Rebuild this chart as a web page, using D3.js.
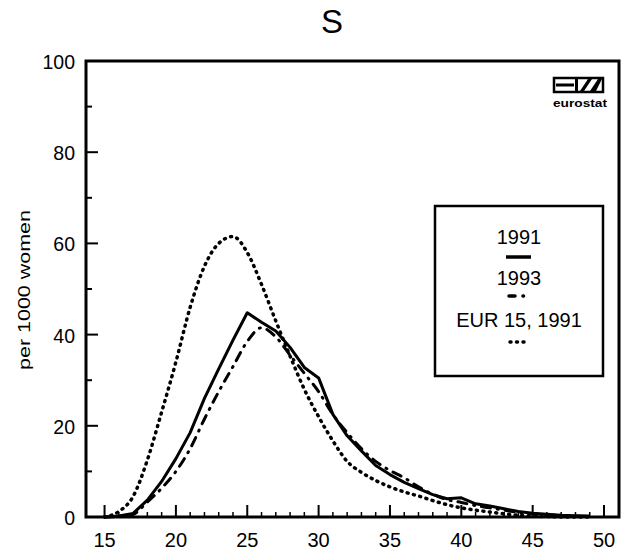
<!DOCTYPE html>
<html><head><meta charset="utf-8">
<script src="https://cdn.jsdelivr.net/npm/d3@7"></script>
<style>body{margin:0;background:#fff}svg{display:block}text{font-family:"Liberation Sans",Arial,sans-serif;fill:#000}</style>
</head><body><svg id="c" width="635" height="556"></svg>
<script>
const ages = d3.range(15, 50);
const s1991 = [0,0.2,0.8,3.7,7.8,12.8,18.5,26,32.5,38.8,44.8,42.7,40.8,37.2,32.8,30.5,22.5,17.8,14.5,11.3,9.3,7.6,6.2,4.9,4.0,4.2,2.9,2.4,1.8,1.2,0.8,0.6,0.4,0.3,0.2];
const s1993 = [0,0.1,0.6,3.3,6.3,10,15,21.5,27.5,33,38.5,41.5,39.5,35.5,31.5,27.5,22.5,18.5,15,12.2,10.2,8.6,6.6,5.0,3.8,3.2,2.5,2.0,1.5,1.0,0.7,0.5,0.3,0.2,0.1];
const eur15 = [0,1.2,4.5,12.5,23,34,46,55,60,61.5,58,51,43,35.3,28,22,16.7,12.2,9.8,8.0,6.6,5.5,4.6,3.6,2.7,2.0,1.5,1.1,0.7,0.4,0.2,0.1,0,0,0];
const xTicks = [15,20,25,30,35,40,45,50];
const yTicks = [0,20,40,60,80,100];
const legendLabels = ["1991","1993","EUR 15, 1991"];
const title = "S";
const yLabel = "per 1000 women";

const svg = d3.select("#c");
const L=86,R=619,T=61,B=517;
const x = d3.scaleLinear().domain([13.7,51.05]).range([L,R]);
const y = d3.scaleLinear().domain([0,100]).range([B,T]);

const g = svg.append("g");
d3.range(15,51).forEach(v=>{
  const major = v%5===0;
  g.append("line").attr("x1",x(v)).attr("x2",x(v)).attr("y1",B).attr("y2",B-(major?12:5)).attr("stroke","#000").attr("stroke-width",major?2:1.5);
});
d3.range(0,101,10).forEach(v=>{
  const major = v%20===0;
  g.append("line").attr("x1",L).attr("x2",L+(major?12:6)).attr("y1",y(v)).attr("y2",y(v)).attr("stroke","#000").attr("stroke-width",2);
});
xTicks.forEach(v=>svg.append("text").attr("x",x(v)).attr("y",547).attr("text-anchor","middle").attr("font-size",20).text(v));
yTicks.forEach(v=>svg.append("text").attr("x",75).attr("y",y(v)+8).attr("text-anchor","end").attr("font-size",19.5).text(v));

svg.append("rect").attr("x",L).attr("y",T).attr("width",R-L).attr("height",B-T).attr("fill","none").attr("stroke","#000").attr("stroke-width",3);

svg.append("text").attr("x",332).attr("y",33).attr("text-anchor","middle").attr("font-size",33).text(title);
svg.append("text").attr("transform","translate(30,290) rotate(-90)").attr("text-anchor","middle").attr("font-size",17)
  .attr("textLength",160).attr("lengthAdjust","spacingAndGlyphs").text(yLabel);

const line = d3.line().x((d,i)=>x(ages[i])).y(d=>y(d));
const smooth = d3.line().x((d,i)=>x(ages[i])).y(d=>y(d)).curve(d3.curveMonotoneX);
const dotted = "1,5.5", dashdot = "9,7,1,7";
svg.append("path").attr("d",smooth(eur15)).attr("fill","none").attr("stroke","#000").attr("stroke-width",3.5).attr("stroke-dasharray",dotted).attr("stroke-linecap","round");
svg.append("path").attr("d",smooth(s1993)).attr("fill","none").attr("stroke","#000").attr("stroke-width",3).attr("stroke-dasharray",dashdot).attr("stroke-linecap","round");
svg.append("path").attr("d",line(s1991)).attr("fill","none").attr("stroke","#000").attr("stroke-width",3).attr("stroke-linejoin","round");

svg.append("rect").attr("x",435).attr("y",206).attr("width",168).attr("height",170).attr("fill","#fff").attr("stroke","#000").attr("stroke-width",2.5);
const lx=519;
svg.append("text").attr("x",lx).attr("y",244).attr("text-anchor","middle").attr("font-size",20).text(legendLabels[0]);
svg.append("line").attr("x1",506).attr("x2",531).attr("y1",257).attr("y2",257).attr("stroke","#000").attr("stroke-width",3.5);
svg.append("text").attr("x",lx).attr("y",285).attr("text-anchor","middle").attr("font-size",20).text(legendLabels[1]);
svg.append("line").attr("x1",509).attr("x2",530).attr("y1",296).attr("y2",296).attr("stroke","#000").attr("stroke-width",3.5).attr("stroke-dasharray","6,8,0.5,30").attr("stroke-linecap","round");
svg.append("text").attr("x",lx).attr("y",327).attr("text-anchor","middle").attr("font-size",20).text(legendLabels[2]);
svg.append("line").attr("x1",510).attr("x2",528).attr("y1",342).attr("y2",342).attr("stroke","#000").attr("stroke-width",3.5).attr("stroke-dasharray",dotted).attr("stroke-linecap","round");

const lg = svg.append("g");
lg.append("rect").attr("x",554).attr("y",78).attr("width",49).attr("height",14).attr("fill","none").attr("stroke","#000").attr("stroke-width",2.5);
lg.append("rect").attr("x",556).attr("y",83.5).attr("width",18).attr("height",3).attr("fill","#000");
lg.append("rect").attr("x",575).attr("y",79).attr("width",3).attr("height",12).attr("fill","#000");
lg.append("path").attr("d","M580,91 L588,79 L592,79 L584,91Z").attr("fill","#000");
lg.append("path").attr("d","M590,91 L598,79 L602,79 L596,91Z").attr("fill","#000");
lg.append("text").attr("x",553).attr("y",107).attr("font-size",11).attr("font-weight","bold")
  .attr("textLength",54).attr("lengthAdjust","spacingAndGlyphs").text("eurostat");
</script></body></html>
